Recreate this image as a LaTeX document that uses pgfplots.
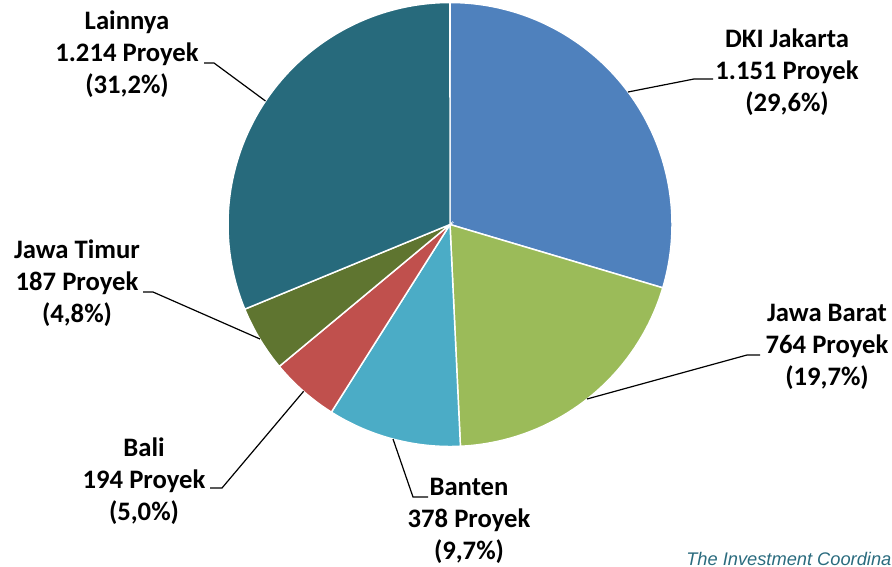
\documentclass[border=0pt]{standalone}
\usepackage{pgfplots}
\pgfplotsset{compat=1.18}
\usepackage{fontspec}
\setmainfont{Carlito}
\newfontfamily\footfont{Liberation Sans}

\definecolor{cDKI}{HTML}{4F81BD}
\definecolor{cJabar}{HTML}{9BBB59}
\definecolor{cBanten}{HTML}{4BACC6}
\definecolor{cBali}{HTML}{C0504D}
\definecolor{cJatim}{HTML}{5F7530}
\definecolor{cLain}{HTML}{276A7C}
\definecolor{cFoot}{HTML}{2A6B7E}

% pie geometry in pixel units of the reference
\def\pcx{450}\def\pcy{224.5}\def\prr{222}
\def\ptotal{3888}
\xdef\pcur{90}

% one slice: value, colour (clockwise from 12 o'clock)
\newcommand\pieslice[2]{%
  \pgfmathsetmacro\psa{\pcur}%
  \pgfmathsetmacro\psb{\pcur-#1/\ptotal*360}%
  \edef\ptmp{\noexpand\addplot[fill=#2, draw=white, line width=1.1pt,
      domain=\psb:\psa, samples=90]
      ({\pcx+\prr*cos(x)},{\pcy-\prr*sin(x)}) -- (axis cs:\pcx,\pcy) -- cycle;}%
  \ptmp
  \xdef\pcur{\psb}%
}

\tikzset{lbl/.style={align=center, inner sep=0pt,
  font=\fontsize{20}{24}\selectfont\bfseries}}

\begin{document}
\begin{tikzpicture}
\path[use as bounding box] (0,0) rectangle (669pt,425.25pt);
\begin{axis}[
    at={(0,0)}, anchor=south west,
    scale only axis, width=669pt, height=425.25pt,
    xmin=0, xmax=892, ymin=0, ymax=567,
    y dir=reverse, hide axis, clip=false,
]
\pieslice{1151}{cDKI}
\pieslice{764}{cJabar}
\pieslice{378}{cBanten}
\pieslice{194}{cBali}
\pieslice{187}{cJatim}
\pieslice{1214}{cLain}

% leader lines
\draw[black, line width=0.9pt] (axis cs:265.5,101) -- (axis cs:214,63) -- (axis cs:204,63);
\draw[black, line width=0.9pt] (axis cs:628,92) -- (axis cs:694,79) -- (axis cs:713,79);
\draw[black, line width=0.9pt] (axis cs:587,399) -- (axis cs:747,355) -- (axis cs:760,355);
\draw[black, line width=0.9pt] (axis cs:393,439) -- (axis cs:413,497) -- (axis cs:428,497);
\draw[black, line width=0.9pt] (axis cs:303.6,391.3) -- (axis cs:222,488) -- (axis cs:210,488);
\draw[black, line width=0.9pt] (axis cs:260,339) -- (axis cs:153,292) -- (axis cs:143,292);

% labels
\node[lbl] at (axis cs:127,54) {Lainnya\\1.214 Proyek\\(31,2\%)};
\node[lbl] at (axis cs:787,72) {DKI Jakarta\\1.151 Proyek\\(29,6\%)};
\node[lbl] at (axis cs:827,347) {Jawa Barat\\764 Proyek\\(19,7\%)};
\node[lbl] at (axis cs:469,521) {Banten\\378 Proyek\\(9,7\%)};
\node[lbl] at (axis cs:144,481) {Bali\\194 Proyek\\(5,0\%)};
\node[lbl] at (axis cs:77,283) {Jawa Timur\\187 Proyek\\(4,8\%)};

% source line, running off the right edge as in the reference
\node[anchor=base west, inner sep=0pt, text=cFoot,
  font=\footfont\itshape\fontsize{13.7}{15}\selectfont]
  at (axis cs:686,565) {The Investment Coordinating Board};
\end{axis}
\end{tikzpicture}
\end{document}
